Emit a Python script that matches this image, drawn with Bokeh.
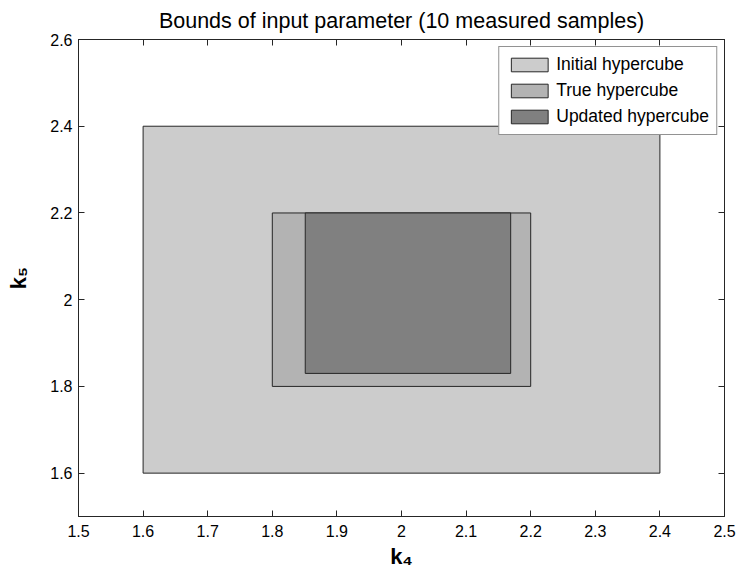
import math
from bokeh.plotting import figure
from bokeh.models import (Range1d, FixedTicker, LinearAxis, Legend, LegendItem)
from bokeh.embed import file_html
from bokeh.resources import INLINE

# ---- data ----
names = ["Initial hypercube", "True hypercube", "Updated hypercube"]
k4_low = [1.6, 1.8, 1.851]
k4_high = [2.4, 2.2, 2.169]
k5_low = [1.6, 1.8, 1.83]
k5_high = [2.4, 2.2, 2.2]
colors = ["#cccccc", "#b3b3b3", "#808080"]

x_ticks = [1.5, 1.6, 1.7, 1.8, 1.9, 2.0, 2.1, 2.2, 2.3, 2.4, 2.5]
x_tick_labels = ["1.5", "1.6", "1.7", "1.8", "1.9", "2", "2.1", "2.2", "2.3", "2.4", "2.5"]
y_ticks = [1.6, 1.8, 2.0, 2.2, 2.4, 2.6]
y_tick_labels = ["1.6", "1.8", "2", "2.2", "2.4", "2.6"]

title_text = "Bounds of input parameter (10 measured samples)"
x_label = "k\u2084"
y_label = "k\u2085"

FONT = "Liberation Sans"
AX = "#262626"

p = figure(width=738, height=574, x_range=Range1d(1.5, 2.5), y_range=Range1d(1.5, 2.6),
           output_backend="svg", toolbar_location=None,
           min_border_left=78, min_border_right=14, min_border_top=39, min_border_bottom=58,
           title=title_text)
p.title.align = "center"
p.title.vertical_align = "top"
p.title.text_font = FONT
p.title.text_font_size = "21.5px"
p.title.text_font_style = "normal"
p.title.text_color = "black"
p.title.standoff = 10

p.grid.visible = False
p.outline_line_color = AX
p.outline_line_width = 1
p.background_fill_color = "white"
p.border_fill_color = "white"

def style_axis(ax, ticks, labels, show_labels=True):
    ax.ticker = FixedTicker(ticks=ticks)
    ax.major_tick_in = 6
    ax.major_tick_out = 0
    ax.minor_tick_line_color = None
    ax.axis_line_color = AX
    ax.major_tick_line_color = AX
    ax.major_label_text_font = FONT
    if show_labels:
        ax.major_label_overrides = {t: l for t, l in zip(ticks, labels)}
        ax.major_label_text_font_size = "16px"
        ax.major_label_text_color = "black"
    else:
        ax.major_label_text_font_size = "1px"
        ax.major_label_text_color = None
        ax.major_label_text_alpha = 0
        ax.major_label_standoff = 0

style_axis(p.xaxis[0], x_ticks, x_tick_labels)
p.xaxis[0].major_label_standoff = 8
style_axis(p.yaxis[0], y_ticks, y_tick_labels)
p.yaxis[0].major_label_standoff = 6

for ax in (p.xaxis[0], p.yaxis[0]):
    ax.axis_label_text_font = FONT
    ax.axis_label_text_font_size = "22px"
    ax.axis_label_text_font_style = "bold"
    ax.axis_label_text_color = "black"
p.xaxis[0].axis_label = x_label
p.xaxis[0].axis_label_standoff = 4
p.yaxis[0].axis_label = y_label
p.yaxis[0].axis_label_standoff = 16

top = LinearAxis()
style_axis(top, x_ticks, x_tick_labels, show_labels=False)
p.add_layout(top, "above")
right = LinearAxis()
style_axis(right, y_ticks, y_tick_labels, show_labels=False)
p.add_layout(right, "right")

items = []
for i in range(len(names)):
    r = p.quad(left=[k4_low[i]], right=[k4_high[i]], bottom=[k5_low[i]], top=[k5_high[i]],
               fill_color=colors[i], line_color=AX, line_width=1)
    items.append(LegendItem(label=names[i], renderers=[r]))

legend = Legend(items=items, location="top_right")
legend.margin = 7
legend.padding = 7
legend.spacing = 5
legend.glyph_width = 46
legend.glyph_height = 17
legend.label_height = 17
legend.label_standoff = 4
legend.label_text_font = FONT
legend.label_text_font_size = "17.5px"
legend.label_text_color = "black"
legend.border_line_color = AX
legend.border_line_width = 1
legend.background_fill_alpha = 1
p.add_layout(legend, "center")

open("out.html", "w").write(file_html(p, INLINE))
